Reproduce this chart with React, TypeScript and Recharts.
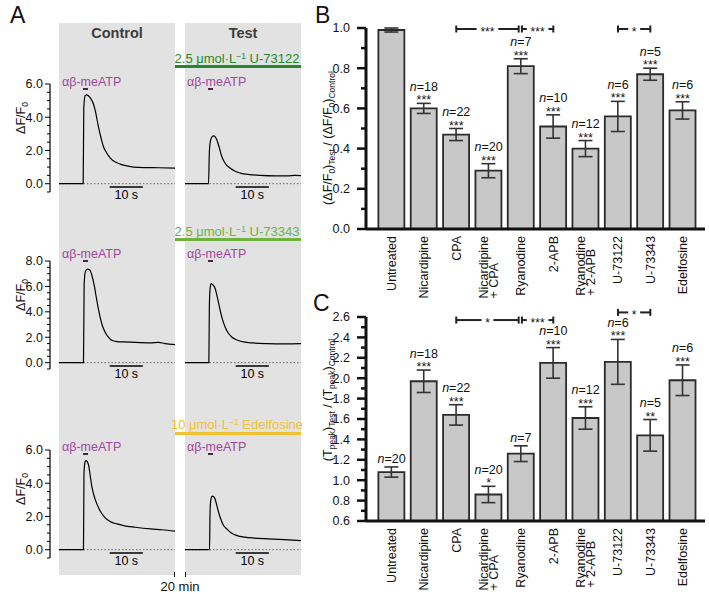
import React from 'react';
import {
  LineChart,
  Line,
  XAxis,
  YAxis,
  ReferenceLine,
  ComposedChart,
  Bar,
  ErrorBar,
  Scatter,
} from 'recharts';

const FONT = '"Liberation Sans", Arial, sans-serif';

// Panel A traces, [time in s, ΔF/F0]
const ctrl1: [number, number][] = [
  [0, 0], [3.5, 0], [7.3, 0], [7.5, 4.6], [7.9, 5.3], [8.4, 5.35], [9.4, 5.18], [10.4, 4.8],
  [10.9, 4.44], [11.9, 3.44], [12.7, 2.75], [13.4, 2.24], [14.4, 1.85], [15.5, 1.54], [17, 1.3],
  [18.5, 1.18], [20.5, 1.07], [22.5, 1.0], [26, 0.97], [30, 0.96], [35, 0.94],
];
const test1: [number, number][] = [
  [0, 0], [3.5, 0], [7.1, 0], [7.35, 1.9], [7.7, 2.6], [8.3, 2.85], [8.7, 2.88], [9.6, 2.64],
  [10.3, 2.2], [11.1, 1.64], [12.2, 1.2], [13.6, 0.94], [15, 0.76], [16.7, 0.64], [19.5, 0.55],
  [22.7, 0.5], [27, 0.47], [31, 0.47], [33, 0.5], [35, 0.48],
];
const ctrl2: [number, number][] = [
  [0, 0], [3.5, 0], [7.4, 0], [7.6, 6.2], [8.0, 7.2], [8.6, 7.37], [9.3, 7.3], [9.9, 6.9],
  [10.7, 6.0], [11.4, 4.92], [12.4, 3.6], [13.1, 2.9], [13.9, 2.42], [14.9, 2.0], [15.9, 1.76],
  [17.5, 1.66], [19.5, 1.63], [23, 1.6], [27.6, 1.55], [30, 1.6], [32, 1.5], [35, 1.42],
];
const test2: [number, number][] = [
  [0, 0], [3.5, 0], [7.2, 0], [7.35, 4.5], [7.6, 5.9], [7.9, 6.22], [8.3, 6.15], [9.1, 5.84],
  [9.8, 5.1], [10.6, 4.13], [11.3, 3.4], [12.1, 2.81], [13, 2.35], [14.1, 2.02], [15.7, 1.78],
  [17.7, 1.63], [20.5, 1.55], [24.7, 1.5], [30, 1.48], [35, 1.5],
];
const ctrl3: [number, number][] = [
  [0, 0], [3.5, 0], [7.4, 0], [7.55, 4.6], [7.9, 5.3], [8.2, 5.36], [8.9, 5.12], [9.4, 4.5],
  [9.9, 3.83], [10.9, 3.04], [12.4, 2.34], [13.8, 1.95], [15.5, 1.69], [17.5, 1.55], [19.5, 1.45],
  [23, 1.35], [27.6, 1.25], [31, 1.2], [35, 1.12],
];
const test3: [number, number][] = [
  [0, 0], [3.5, 0], [7.4, 0], [7.55, 2.2], [7.8, 3.0], [8.2, 3.23], [8.6, 3.2], [9.1, 3.04],
  [9.8, 2.5], [10.6, 1.95], [11.5, 1.5], [12.6, 1.25], [14, 1.0], [15.7, 0.85], [18, 0.76],
  [20.8, 0.7], [25, 0.65], [30, 0.6], [35, 0.55],
];
const ctrlTraces = [ctrl1, ctrl2, ctrl3];
const testTraces = [test1, test2, test3];
const traceMax = [6, 8, 6];
const ticksTo6 = [-0.5, 0, 0.5, 1, 1.5, 2, 2.5, 3, 3.5, 4, 4.5, 5, 5.5, 6];
const ticksTo8 = [-0.5, 0, 0.5, 1, 1.5, 2, 2.5, 3, 3.5, 4, 4.5, 5, 5.5, 6, 6.5, 7, 7.5, 8];
const traceTicks = [ticksTo6, ticksTo8, ticksTo6];
const drugDose = ['2.5 μmol·L', '2.5 μmol·L', '10 μmol·L'];
const drugName = ['U-73122', 'U-73343', 'Edelfosine'];
const drugColor = ['#24892e', '#6db33c', '#f2c12e'];

// Panels B and C
const cats = [
  'Untreated', 'Nicardipine', 'CPA', 'Nicardipine\n+ CPA', 'Ryanodine',
  '2-APB', 'Ryanodine\n+ 2-APB', 'U-73122', 'U-73343', 'Edelfosine',
];
const catIdx = [0, 1, 2, 3, 4, 5, 6, 7, 8, 9];
const nVals = [20, 18, 22, 20, 7, 10, 12, 6, 5, 6];
const ampMean = [0.99, 0.6, 0.47, 0.29, 0.81, 0.51, 0.4, 0.56, 0.77, 0.59];
const ampErr = [0.01, 0.025, 0.03, 0.035, 0.037, 0.058, 0.04, 0.075, 0.03, 0.043];
const ampSig = ['', '***', '***', '***', '***', '***', '***', '***', '***', '***'];
const ampTicks = [0, 0.1, 0.2, 0.3, 0.4, 0.5, 0.6, 0.7, 0.8, 0.9, 1.0];
const ampBrackets = [
  { from: 2, to: 3.93, y: 0.995, text: '***' },
  { from: 4.03, to: 5, y: 0.995, text: '***' },
  { from: 7, to: 8, y: 0.995, text: '*' },
];
const tpMean = [1.08, 1.97, 1.64, 0.86, 1.26, 2.15, 1.61, 2.16, 1.44, 1.98];
const tpErr = [0.05, 0.11, 0.1, 0.08, 0.077, 0.15, 0.11, 0.22, 0.155, 0.15];
const tpSig = ['', '***', '***', '*', '', '***', '***', '***', '**', '***'];
const tpTicks = [
  0.6, 0.7, 0.8, 0.9, 1.0, 1.1, 1.2, 1.3, 1.4, 1.5, 1.6, 1.7, 1.8, 1.9, 2.0,
  2.1, 2.2, 2.3, 2.4, 2.5, 2.6,
];
const tpBrackets = [
  { from: 2, to: 3.93, y: 2.57, text: '*' },
  { from: 4.03, to: 5, y: 2.57, text: '***' },
  { from: 7, to: 8, y: 2.645, text: '*' },
];

const measureCtx =
  typeof document !== 'undefined' ? document.createElement('canvas').getContext('2d') : null;
function textWidth(s: string, size = 12.5) {
  if (!measureCtx) return s.length * size * 0.55;
  measureCtx.font = `${size}px "Liberation Sans"`;
  return measureCtx.measureText(s).width;
}

const TraceTick = ({ x, y, payload }: any) => {
  const v = payload.value;
  const major = v >= 0 && Math.round(v * 10) % 20 === 0;
  return (
    <g>
      <line x1={x} x2={x - (major ? 5 : 3)} y1={y} y2={y} stroke="#000" strokeWidth={1} />
      {major && (
        <text x={x - 7} y={y} dy="0.35em" textAnchor="end" fontSize={12.5} fontFamily={FONT} fill="#111">
          {v.toFixed(1)}
        </text>
      )}
    </g>
  );
};

function Trace({ pts, left, top, width, xMin, yMax, ticks, axis }: any) {
  const data = pts.map(([t, v]: [number, number]) => ({ t, v }));
  const sb = -yMax * 0.034;
  return (
    <div style={{ position: 'absolute', left, top: top - 10 }}>
      <LineChart width={width} height={140} data={data} margin={{ top: 10, right: 0, bottom: 22, left: 0 }}>
        <XAxis dataKey="t" type="number" domain={[xMin, 35]} hide allowDataOverflow />
        <YAxis
          type="number"
          domain={[-0.5, yMax]}
          ticks={ticks}
          interval={0}
          hide={!axis}
          width={50}
          tickSize={0}
          tickMargin={0}
          tickLine={false}
          allowDataOverflow
          axisLine={{ stroke: '#000', strokeWidth: 1.2 }}
          tick={(p: any) => <TraceTick {...p} />}
        />
        <ReferenceLine
          segment={[{ x: 0, y: 0 }, { x: 35, y: 0 }]}
          stroke="#666"
          strokeDasharray="1.5 2"
          strokeWidth={1}
        />
        <ReferenceLine
          segment={[{ x: 15.3, y: sb }, { x: 25.3, y: sb }]}
          stroke="#000"
          strokeWidth={1.5}
          ifOverflow="visible"
          label={{ value: '10 s', position: 'bottom', offset: 3, fill: '#000', fontSize: 12.5, fontFamily: FONT }}
        />
        <Line dataKey="v" type="monotone" stroke="#000" strokeWidth={1.2} dot={false} isAnimationActive={false} />
      </LineChart>
    </div>
  );
}

const CatTick = ({ x, y, payload }: any) => {
  const lines = cats[payload.value].split('\n');
  const w = Math.max(...lines.map((l) => textWidth(l)));
  const lh = 9.3;
  return (
    <g transform={`translate(${x},${y + 7}) rotate(-90)`}>
      {lines.map((l, k) => (
        <text
          key={k}
          x={-w}
          y={(k - (lines.length - 1) / 2) * lh}
          dy="0.35em"
          textAnchor="start"
          fontSize={12.5}
          fontFamily={FONT}
          fill="#111"
        >
          {l}
        </text>
      ))}
    </g>
  );
};

const RatioTick = ({ x, y, payload }: any) => {
  const v = payload.value;
  const major = Math.round(v * 10) % 2 === 0;
  return (
    <g>
      <line x1={x} x2={x - (major ? 9 : 5)} y1={y} y2={y} stroke="#111" strokeWidth={2.5} />
      {major && (
        <text x={x - 16} y={y} dy="0.35em" textAnchor="end" fontSize={12.5} fontFamily={FONT} fill="#111">
          {v.toFixed(1)}
        </text>
      )}
    </g>
  );
};

const MarkLabel = ({ cx, cy, payload }: any) => {
  const s = payload.s;
  return (
    <g fontFamily={FONT} fontSize={12.5} fill="#111" textAnchor="middle">
      {s && (
        <text x={cx} y={cy + 1}>
          {s}
        </text>
      )}
      <text x={cx} y={s ? cy - 12.5 : cy - 4}>
        <tspan fontStyle="italic">n</tspan>
        {'=' + payload.n}
      </text>
    </g>
  );
};

const bracketShape = (text: string) => (p: any) => {
  const { x1, y1, x2 } = p;
  const mid = (x1 + x2) / 2;
  const half = (textWidth(text) + 7) / 2;
  return (
    <g>
      <g stroke="#222" strokeWidth={2}>
        <line x1={x1} x2={Math.max(x1, mid - half)} y1={y1} y2={y1} />
        <line x1={Math.min(x2, mid + half)} x2={x2} y1={y1} y2={y1} />
        <line x1={x1} x2={x1} y1={y1 - 3.5} y2={y1 + 3.5} />
        <line x1={x2} x2={x2} y1={y1 - 3.5} y2={y1 + 3.5} />
      </g>
      <text x={mid} y={y1 + 6.5} textAnchor="middle" fontSize={12} fontFamily={FONT} fill="#111">
        {text}
      </text>
    </g>
  );
};

function BarPanel({ top, plotH, means, errs, sigs, yMin, yMax, yTicks, brackets }: any) {
  const data = cats.map((c, i) => ({ i, v: means[i], e: errs[i] }));
  const marks = cats.map((c, i) => ({ i, top: means[i] + errs[i], n: nVals[i], s: sigs[i] }));
  return (
    <div style={{ position: 'absolute', left: 317, top: top - 28 }}>
      <ComposedChart width={392} height={28 + plotH + 70} data={data} margin={{ top: 28, right: 4, bottom: 0, left: 0 }}>
        <XAxis
          dataKey="i"
          type="number"
          domain={[-0.79, 9.69]}
          ticks={catIdx}
          interval={0}
          height={70}
          tickSize={0}
          tickMargin={0}
          tickLine={false}
          allowDataOverflow
          axisLine={{ stroke: '#111', strokeWidth: 3 }}
          tick={(p: any) => <CatTick {...p} />}
        />
        <YAxis
          type="number"
          domain={[yMin, yMax]}
          ticks={yTicks}
          interval={0}
          width={49}
          tickSize={0}
          tickMargin={0}
          tickLine={false}
          allowDataOverflow
          axisLine={{ stroke: '#111', strokeWidth: 3 }}
          tick={(p: any) => <RatioTick {...p} />}
        />
        <Bar dataKey="v" barSize={26} fill="#c8c8c8" stroke="#2b2b2b" strokeWidth={1.8} isAnimationActive={false}>
          <ErrorBar dataKey="e" width={7} stroke="#333" strokeWidth={1.6} />
        </Bar>
        <Scatter data={marks} dataKey="top" shape={(p: any) => <MarkLabel {...p} />} isAnimationActive={false} />
        {brackets.map((b: any, k: number) => (
          <ReferenceLine
            key={k}
            segment={[{ x: b.from, y: b.y }, { x: b.to, y: b.y }]}
            ifOverflow="visible"
            shape={bracketShape(b.text)}
          />
        ))}
      </ComposedChart>
    </div>
  );
}

const Abs = ({ x, y, children, style }: any) => (
  <div
    style={{
      position: 'absolute',
      left: x,
      top: y,
      transform: 'translate(-50%,-50%)',
      whiteSpace: 'nowrap',
      lineHeight: 1,
      ...style,
    }}
  >
    {children}
  </div>
);

const Agonist = ({ x, y }: any) => {
  const pre = textWidth('αβ-');
  const mw = textWidth('m');
  return (
    <>
      <div
        style={{
          position: 'absolute',
          left: x,
          top: y - 7,
          height: 14,
          lineHeight: '14px',
          whiteSpace: 'nowrap',
          color: '#a0479c',
          fontSize: 12.5,
        }}
      >
        αβ-meATP
      </div>
      <div
        style={{
          position: 'absolute',
          left: x + pre + mw / 2 - 2.5,
          top: y + 6,
          width: 5,
          height: 2,
          background: '#4a2448',
        }}
      />
    </>
  );
};

const subS = { fontSize: 8.5, verticalAlign: '-0.3em' } as React.CSSProperties;

export default function App() {
  const rowTop = [84, 261, 450];
  const labelY = [118, 295, 489];
  const drugTextY = [58, 231, 424];
  const drugLineY = [66.5, 239.5, 433.5];
  const agonistY = [81.5, 253.5, 447];
  return (
    <div
      style={{
        position: 'absolute',
        left: 0,
        top: 0,
        width: 709,
        height: 594,
        background: '#fff',
        fontFamily: FONT,
        color: '#111',
        overflow: 'hidden',
      }}
    >
      <div style={{ position: 'absolute', left: 59, top: 23, width: 116, height: 552, background: '#e2e2e2' }} />
      <div style={{ position: 'absolute', left: 185, top: 23, width: 116, height: 552, background: '#e2e2e2' }} />

      {rowTop.map((t, r) => (
        <React.Fragment key={r}>
          <Trace pts={ctrlTraces[r]} left={0} top={t} width={175} xMin={-2.7} yMax={traceMax[r]} ticks={traceTicks[r]} axis />
          <Trace pts={testTraces[r]} left={185} top={t} width={116} xMin={0} yMax={traceMax[r]} ticks={traceTicks[r]} axis={false} />
          <div
            style={{
              position: 'absolute',
              left: 175,
              top: drugLineY[r] - 1.5,
              width: 126,
              height: 3,
              background: drugColor[r],
            }}
          />
          <Abs x={237} y={drugTextY[r]} style={{ color: drugColor[r], fontSize: 13 }}>
            {drugDose[r]}
            <span style={{ fontSize: 8.5, verticalAlign: '0.45em' }}>−1</span> {drugName[r]}
          </Abs>
          <Agonist x={62} y={agonistY[r]} />
          <Agonist x={187} y={agonistY[r]} />
          <Abs x={22} y={labelY[r]} style={{ transform: 'translate(-50%,-50%) rotate(-90deg)', fontSize: 12.5 }}>
            ΔF/F<span style={subS}>0</span>
          </Abs>
        </React.Fragment>
      ))}

      <Abs x={117} y={33} style={{ fontWeight: 'bold', fontSize: 14.5, color: '#3c3c3c' }}>
        Control
      </Abs>
      <Abs x={243} y={33} style={{ fontWeight: 'bold', fontSize: 14.5, color: '#3c3c3c' }}>
        Test
      </Abs>
      <div style={{ position: 'absolute', left: 174, top: 572, width: 1.2, height: 5, background: '#111' }} />
      <div style={{ position: 'absolute', left: 184.5, top: 572, width: 1.2, height: 5, background: '#111' }} />
      <Abs x={180} y={586} style={{ fontSize: 13 }}>
        20 min
      </Abs>

      <BarPanel top={28} plotH={201} means={ampMean} errs={ampErr} sigs={ampSig} yMin={0} yMax={1} yTicks={ampTicks} brackets={ampBrackets} />
      <BarPanel top={317} plotH={204} means={tpMean} errs={tpErr} sigs={tpSig} yMin={0.6} yMax={2.6} yTicks={tpTicks} brackets={tpBrackets} />

      <Abs x={329} y={138} style={{ transform: 'translate(-50%,-50%) rotate(-90deg)', fontSize: 12.5 }}>
        (ΔF/F<span style={subS}>0</span>)<span style={subS}>Test</span> / (ΔF/F<span style={subS}>0</span>)
        <span style={subS}>Control</span>
      </Abs>
      <Abs x={329} y={400} style={{ transform: 'translate(-50%,-50%) rotate(-90deg)', fontSize: 12.5 }}>
        (T<span style={subS}>peak</span>)<span style={subS}>Test</span> / (T<span style={subS}>peak</span>)
        <span style={subS}>Control</span>
      </Abs>

      <div style={{ position: 'absolute', left: 10, top: 4, fontSize: 23, lineHeight: 1 }}>A</div>
      <div style={{ position: 'absolute', left: 315, top: 4, fontSize: 23, lineHeight: 1 }}>B</div>
      <div style={{ position: 'absolute', left: 313, top: 292, fontSize: 23, lineHeight: 1 }}>C</div>
    </div>
  );
}
